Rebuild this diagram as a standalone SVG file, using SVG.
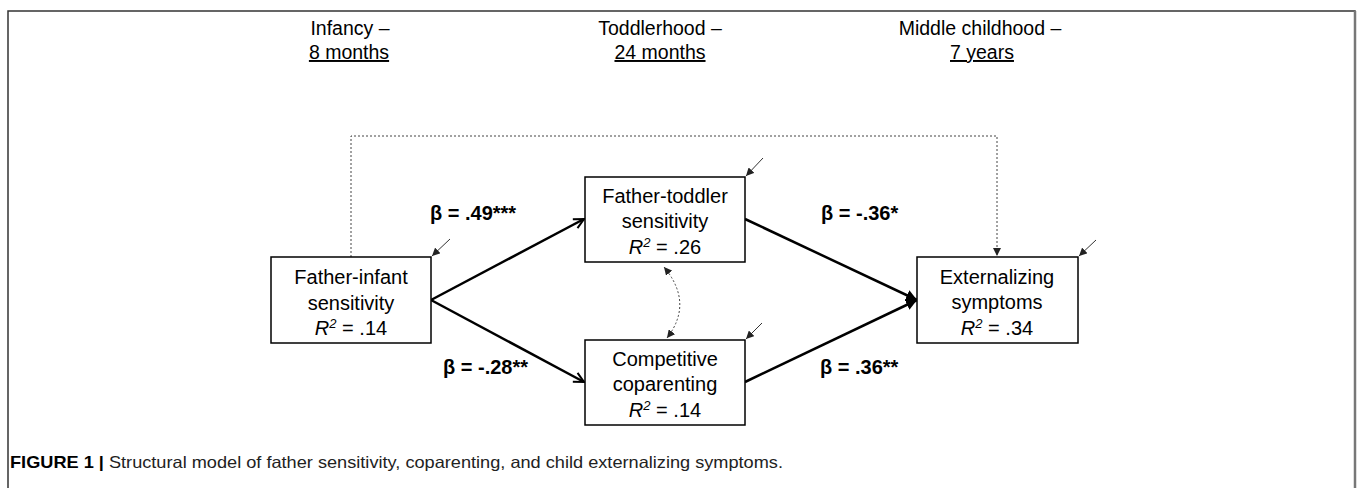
<svg xmlns="http://www.w3.org/2000/svg" width="1357" height="488" viewBox="0 0 1357 488">
<defs>
<style>
.box{fill:#fff;stroke:#000;stroke-width:1.5}
.nt{font-family:"Liberation Sans",Arial,sans-serif;font-size:20px;fill:#000;text-anchor:middle}
.hd{font-family:"Liberation Sans",Arial,sans-serif;font-size:19.5px;fill:#000;text-anchor:middle}
.beta{font-family:"Liberation Sans",Arial,sans-serif;font-size:20px;font-weight:bold;fill:#000}
.main{fill:none;stroke:#000;stroke-width:2.5}
.dot{fill:none;stroke:#444;stroke-width:1;stroke-dasharray:2,2}
.err{fill:none;stroke:#333;stroke-width:1}
.cap{font-family:"Liberation Sans",Arial,sans-serif;font-size:16.5px;fill:#222}
</style>
<marker id="open" viewBox="0 0 12 12" refX="11" refY="6" markerWidth="12" markerHeight="12" markerUnits="userSpaceOnUse" orient="auto">
<path d="M1,1 L11,6 L1,11" fill="none" stroke="#000" stroke-width="2"/>
</marker>
<marker id="fill" viewBox="0 0 10 10" refX="10" refY="5" markerWidth="11" markerHeight="11" markerUnits="userSpaceOnUse" orient="auto">
<path d="M0,0 L10,5 L0,10 z" fill="#000"/>
</marker>
<marker id="small" viewBox="0 0 10 10" refX="10" refY="5" markerWidth="8" markerHeight="8" markerUnits="userSpaceOnUse" orient="auto">
<path d="M0,0 L10,5 L0,10 z" fill="#222"/>
</marker>
<marker id="smallS" viewBox="0 0 10 10" refX="0" refY="5" markerWidth="8" markerHeight="8" markerUnits="userSpaceOnUse" orient="auto">
<path d="M10,0 L0,5 L10,10 z" fill="#222"/>
</marker>
</defs>
<rect x="0" y="0" width="1357" height="488" fill="#fff"/>
<path d="M8,495 L8,11 L1355,11 L1355,495" fill="none" stroke="#333" stroke-width="1.5"/>
<line x1="1355" y1="11" x2="1355" y2="495" stroke="#777" stroke-width="2.5"/>

<g id="headers">
<text class="hd" x="350" y="35">Infancy –</text>
<text class="hd" x="349" y="59" text-decoration="underline">8 months</text>
<text class="hd" x="660" y="35">Toddlerhood –</text>
<text class="hd" x="660" y="59" text-decoration="underline">24 months</text>
<text class="hd" x="980" y="35">Middle childhood –</text>
<text class="hd" x="982" y="59" text-decoration="underline">7 years</text>
</g>

<g id="connectors">
<path class="dot" d="M351,257 L351,136 L997,136 L997,256" marker-end="url(#small)"/>
<path class="dot" d="M664,267 Q694,303 667,338" marker-start="url(#smallS)" marker-end="url(#small)"/>
<line class="main" x1="431" y1="300" x2="584" y2="219" marker-end="url(#open)"/>
<line class="main" x1="431" y1="300" x2="584" y2="382" marker-end="url(#open)"/>
<line class="main" x1="745" y1="219" x2="917" y2="300" marker-end="url(#fill)"/>
<line class="main" x1="745" y1="382" x2="917" y2="300" marker-end="url(#fill)"/>
<line class="err" x1="450" y1="239" x2="432" y2="256" marker-end="url(#small)"/>
<line class="err" x1="763" y1="158" x2="746" y2="176" marker-end="url(#small)"/>
<line class="err" x1="762" y1="323" x2="746" y2="339" marker-end="url(#small)"/>
<line class="err" x1="1096" y1="240" x2="1079" y2="256" marker-end="url(#small)"/>
</g>

<g id="labels">
<text class="beta" x="430" y="220">β = .49***</text>
<text class="beta" x="443" y="374">β = -.28**</text>
<text class="beta" x="821" y="220">β = -.36*</text>
<text class="beta" x="820" y="374">β = .36**</text>
</g>

<g id="node-father-infant">
<rect class="box" x="271" y="257" width="160" height="86"/>
<text class="nt" x="351" y="284">Father-infant</text>
<text class="nt" x="351" y="310">sensitivity</text>
<text class="nt" x="351" y="335"><tspan font-style="italic">R</tspan><tspan font-style="italic" font-size="13" dy="-7">2</tspan><tspan dy="7"> = .14</tspan></text>
</g>

<g id="node-father-toddler">
<rect class="box" x="585" y="177" width="160" height="85"/>
<text class="nt" x="665" y="203">Father-toddler</text>
<text class="nt" x="665" y="228">sensitivity</text>
<text class="nt" x="665" y="254"><tspan font-style="italic">R</tspan><tspan font-style="italic" font-size="13" dy="-7">2</tspan><tspan dy="7"> = .26</tspan></text>
</g>

<g id="node-competitive">
<rect class="box" x="585" y="340" width="160" height="85"/>
<text class="nt" x="665" y="366">Competitive</text>
<text class="nt" x="665" y="391">coparenting</text>
<text class="nt" x="665" y="417"><tspan font-style="italic">R</tspan><tspan font-style="italic" font-size="13" dy="-7">2</tspan><tspan dy="7"> = .14</tspan></text>
</g>

<g id="node-externalizing">
<rect class="box" x="917" y="257" width="161" height="86"/>
<text class="nt" x="997" y="284">Externalizing</text>
<text class="nt" x="997" y="309">symptoms</text>
<text class="nt" x="997" y="335"><tspan font-style="italic">R</tspan><tspan font-style="italic" font-size="13" dy="-7">2</tspan><tspan dy="7"> = .34</tspan></text>
</g>

<g id="caption">
<text class="cap" x="10" y="468" textLength="773" lengthAdjust="spacingAndGlyphs"><tspan font-weight="bold" fill="#000">FIGURE 1 | </tspan>Structural model of father sensitivity, coparenting, and child externalizing symptoms.</text>
</g>
</svg>
